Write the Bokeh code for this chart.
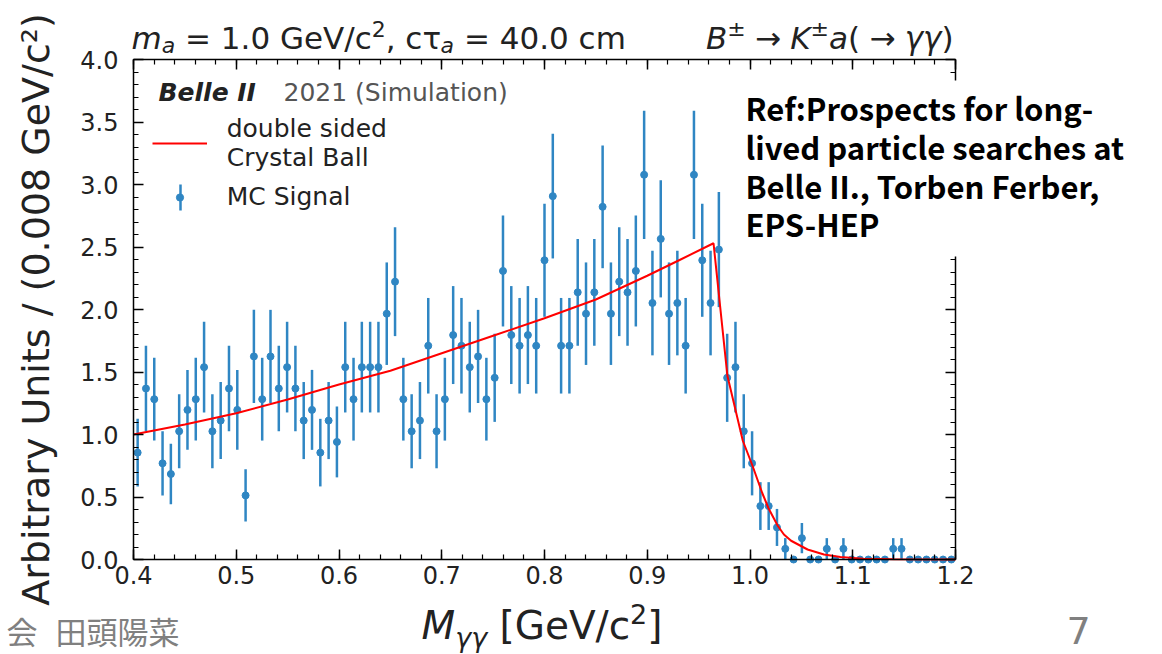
import numpy as np
from bokeh.plotting import figure
from bokeh.models import (Label, Legend, LegendItem, LinearAxis, FixedTicker, Range1d,
                          PrintfTickFormatter, BoxAnnotation)
from bokeh.embed import file_html
from bokeh.resources import INLINE

# ---------------- data ----------------
x_lo, x_hi, n_bins = 0.4, 1.2, 99
y_lo, y_hi = 0.0, 4.0
# MC signal entries per bin (value = count * unit, error = sqrt(count) * unit)
counts = [10, 16, 15, 9, 8, 12, 14, 15, 18, 12,
          13, 16, 14, 6, 19, 15, 19, 16, 18, 16,
          13, 14, 10, 13, 11, 18, 15, 18, 18, 18,
          23, 26, 15, 12, 13, 20, 12, 15, 21, 20,
          18, 19, 15, 17, 27, 21, 20, 21, 20, 28,
          34, 20, 20, 25, 23, 25, 33, 23, 26, 25,
          27, 36, 24, 30, 23, 24, 20, 36, 28, 24,
          29, 17, 18, 12, 9, 5, 5, 3, 1, 0,
          2, 0, 0, 1, 0, 1, 0, 0, 0, 0,
          0, 1, 1, 0, 0, 0, 0, 0, 0]
unit = 0.0855
# double sided Crystal Ball fit curve
curve_x = [0.40, 0.45, 0.50, 0.55, 0.60, 0.65, 0.70, 0.75, 0.80, 0.85, 0.90, 0.93,
           0.9645, 0.978, 0.993, 1.002, 1.012, 1.018, 1.027, 1.033, 1.040, 1.056,
           1.072, 1.088, 1.11, 1.14, 1.20]
curve_y = [1.00, 1.08, 1.17, 1.28, 1.40, 1.51, 1.65, 1.79, 1.93, 2.08, 2.27, 2.39,
           2.53, 1.47, 0.95, 0.76, 0.53, 0.41, 0.27, 0.20, 0.15, 0.08,
           0.04, 0.02, 0.007, 0.002, 0.0]
x_ticks = [0.4, 0.5, 0.6, 0.7, 0.8, 0.9, 1.0, 1.1, 1.2]
y_ticks = [0.0, 0.5, 1.0, 1.5, 2.0, 2.5, 3.0, 3.5, 4.0]

edges = np.linspace(x_lo, x_hi, n_bins + 1)
centers = 0.5 * (edges[:-1] + edges[1:])
cnt = np.array(counts, dtype=float)
yv = cnt * unit
err = np.sqrt(cnt) * unit

# ---------------- layout ----------------
W, H = 1162, 654
FL, FR, FT, FB = 133, 955, 59, 559      # pixel box of the axes
BLUE = "#2f86c3"
INK = "#222222"
DJ = "DejaVu Sans"
CJK = "Noto Sans CJK JP"


def dx(px):
    return x_lo + (px - FL) / (FR - FL) * (x_hi - x_lo)


def dy(py):
    return y_lo + (FB - py) / (FB - FT) * (y_hi - y_lo)


p = figure(width=W, height=H, x_range=Range1d(dx(0), dx(W)), y_range=Range1d(dy(H), dy(0)),
           output_backend="svg", toolbar_location=None, min_border=0,
           x_axis_location=None, y_axis_location=None, outline_line_color=None,
           background_fill_color="white", border_fill_color="white")
p.grid.visible = False

minor_x = [round(0.4 + 0.02 * i, 3) for i in range(41)]
minor_y = [round(0.1 * i, 2) for i in range(41)]

ax_b = LinearAxis(fixed_location=y_lo, bounds=(x_lo, x_hi))
ax_t = LinearAxis(fixed_location=y_hi, bounds=(x_lo, x_hi))
ax_l = LinearAxis(fixed_location=x_lo, bounds=(y_lo, y_hi))
ax_r = LinearAxis(fixed_location=x_hi, bounds=(y_lo, y_hi))
p.add_layout(ax_b, "below")
p.add_layout(ax_t, "above")
p.add_layout(ax_l, "left")
p.add_layout(ax_r, "right")

for ax in [ax_b, ax_t]:
    ax.ticker = FixedTicker(ticks=x_ticks, minor_ticks=minor_x)
for ax in [ax_l, ax_r]:
    ax.ticker = FixedTicker(ticks=y_ticks, minor_ticks=minor_y)

for ax in [ax_b, ax_t, ax_l, ax_r]:
    ax.formatter = PrintfTickFormatter(format="%.1f")
    ax.axis_line_color = "black"
    ax.axis_line_width = 1.5
    ax.major_tick_in = 10
    ax.major_tick_out = 0
    ax.minor_tick_in = 5
    ax.minor_tick_out = 0
    ax.major_tick_line_width = 1.5
    ax.minor_tick_line_width = 1.2
    ax.major_tick_line_color = "black"
    ax.minor_tick_line_color = "black"
    ax.major_label_text_font = DJ
    ax.major_label_text_font_size = "24px"
    ax.major_label_text_color = INK

for ax in [ax_t, ax_r]:
    ax.major_label_text_alpha = 0

ax_b.major_label_standoff = 6
ax_l.major_label_standoff = 15
ax_l.axis_label = "Arbitrary Units / (0.008 GeV/c²)"
ax_l.axis_label_text_font = DJ
ax_l.axis_label_text_font_size = "38px"
ax_l.axis_label_text_font_style = "normal"
ax_l.axis_label_text_color = INK
ax_l.axis_label_standoff = 19

# ---------------- data glyphs ----------------
p.segment(x0=centers, y0=yv - err, x1=centers, y1=yv + err, line_color=BLUE, line_width=2.5)
pts = p.scatter(x=centers, y=yv, size=7, fill_color=BLUE, line_color=BLUE)
fit = p.line(x=curve_x, y=curve_y, line_color="#ff0000", line_width=2)

# ---------------- legend ----------------
legend = Legend(items=[LegendItem(label="double sided\nCrystal Ball", renderers=[fit]),
                       LegendItem(label="MC Signal", renderers=[pts])],
                location=(141.7, 433), glyph_width=55, glyph_height=18, label_standoff=20,
                spacing=10, padding=10, margin=0, border_line_alpha=0,
                background_fill_alpha=0, label_text_font=DJ,
                label_text_font_size="25px", label_text_color=INK)
p.add_layout(legend)
# vertical error bar of the legend key
p.segment(x0=[dx(180)], y0=[dy(210)], x1=[dx(180)], y1=[dy(184)],
          line_color=BLUE, line_width=2.5)

# ---------------- texts ----------------
CW = {' ': 651, '(': 799, ')': 799, ',': 651, '.': 651, '/': 690, '=': 1716, '[': 799,
      ']': 799, '±': 1716, '→': 1716, 'B': 1405, 'G': 1577, 'K': 1343, 'M': 1767,
      'V': 1401, 'a': 1255, 'c': 1126, 'e': 1260, 'm': 1995, 'γ': 1212, 'τ': 1200}
MID_DJ = 0.346    # centre of the DejaVu text box above the baseline, in em
MID_CJK = 0.436


def tw(s, size):
    return sum(CW.get(ch, 1303) for ch in s) / 2048.0 * size


def text(x_px, base_py, t, size, style="normal", color=INK, font=DJ, align="left", mid=MID_DJ):
    p.add_layout(Label(x=dx(x_px), y=dy(base_py - mid * size), text=t, text_font=font,
                       text_font_size=f"{size}px", text_font_style=style,
                       text_color=color, text_baseline="middle", text_align=align))


def add_runs(parts, x_px, base_py, align="left"):
    total = sum(tw(t, s) for t, s, _, _ in parts)
    cur = x_px - total if align == "right" else x_px
    for t, s, style, rise in parts:
        core = t.strip(" ")
        lead = len(t) - len(t.lstrip(" "))
        if core:
            text(cur + tw(" " * lead, s), base_py - rise, core, s, style)
        cur += tw(t, s)


T, S = 31, 22
add_runs([("m", T, "italic", 0), ("a", S, "italic", -5), (" = 1.0 GeV/c", T, "normal", 0),
          ("2", S, "normal", 12), (", c", T, "normal", 0), ("τ", T, "normal", 0),
          ("a", S, "italic", -5), (" = 40.0 cm", T, "normal", 0)], 131, 48)
G = 0.3 * 2048 / 651   # fraction of a space for the gaps around the arrows
add_runs([("B", T, "italic", 0), ("±", S, "normal", 12), (" ", T * G, "normal", 0),
          ("→", T, "normal", 0), (" ", T * G, "normal", 0),
          ("K", T, "italic", 0), ("±", S, "normal", 12), ("a", T, "italic", 0),
          ("(", T, "normal", 0), (" ", T * G, "normal", 0), ("→", T, "normal", 0),
          (" ", T * G, "normal", 0), ("γγ", T, "italic", 0),
          (")", T, "normal", 0)], 953, 48, align="right")

XL, XS = 39, 27
add_runs([("M", XL, "italic", 0), ("γγ", XS, "italic", -8), (" [GeV/c", XL, "normal", 0),
          ("2", XS, "normal", 15), ("]", XL, "normal", 0)], 421, 638)

text(158, 100.7, "Belle II", 25, "bold italic")
text(283, 100.7, "2021 (Simulation)", 25, "normal", color="#555555")

# reference box of the slide
p.add_layout(BoxAnnotation(left=dx(723), right=dx(W), top=dy(80), bottom=dy(256),
                           fill_color="white", fill_alpha=1.0, line_alpha=0))
ref_lines = ["Ref:Prospects for long-", "lived particle searches at",
             "Belle II., Torben Ferber,", "EPS-HEP"]
for i, line in enumerate(ref_lines):
    text(745, 120.7 + 38.7 * i, line, 31, "bold", color="black", font=CJK, mid=MID_CJK)

# slide footer
text(6, 643.5, "会", 31, "normal", color="#808080", font=CJK, mid=MID_CJK)
text(55, 643.5, "田頭陽菜", 31, "normal", color="#808080", font=CJK, mid=MID_CJK)
text(1066, 643, "7", 38, "normal", color="#808080", font=DJ, mid=MID_DJ)

open("out.html", "w").write(file_html(p, INLINE))
